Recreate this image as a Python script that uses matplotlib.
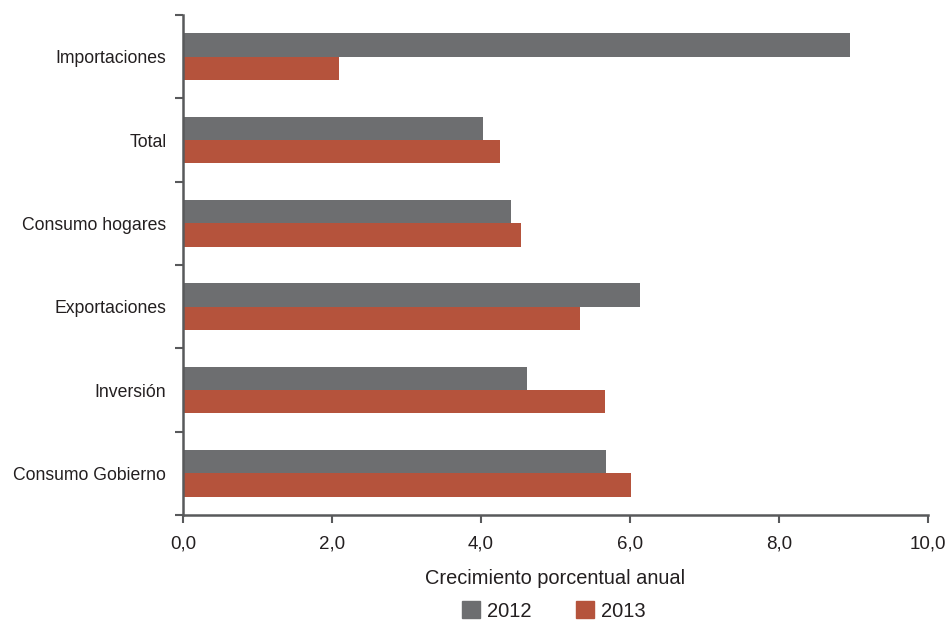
import matplotlib
matplotlib.use("Agg")
import matplotlib.pyplot as plt
from matplotlib.patches import Patch
import numpy as np

categories = ["Importaciones", "Total", "Consumo hogares", "Exportaciones",
              "Inversión", "Consumo Gobierno"]
growth_2012 = [8.95, 4.03, 4.40, 6.13, 4.62, 5.68]
growth_2013 = [2.09, 4.25, 4.54, 5.33, 5.66, 6.01]
series_labels = ["2012", "2013"]
x_ticks = [0, 2, 4, 6, 8, 10]
x_tick_labels = ["0,0", "2,0", "4,0", "6,0", "8,0", "10,0"]

gray = "#6d6e70"
red = "#b5533c"
spine_col = "#58595b"
text_col = "#231f20"

plt.rcParams["font.family"] = ["Liberation Sans", "DejaVu Sans"]

fig = plt.figure(figsize=(9.51, 6.22), dpi=100)
ax = fig.add_axes([183 / 951, 1 - 515 / 622, (928 - 183) / 951, (515 - 15) / 622])

y = np.arange(len(categories))
h = 0.28
ax.barh(y - h / 2, growth_2012, height=h, color=gray, label=series_labels[0])
ax.barh(y + h / 2, growth_2013, height=h, color=red, label=series_labels[1])

ax.set_xlim(0, 10)
ax.set_ylim(len(categories) - 0.5, -0.5)

ax.set_xticks(x_ticks)
ax.set_xticklabels(x_tick_labels, fontsize=13.5, color=text_col)

# category labels centred on groups, tick marks on group boundaries
ax.set_yticks(y)
ax.set_yticklabels(categories, fontsize=12.7, color=text_col)
ax.tick_params(axis="y", which="major", length=0, pad=12)
ax.set_yticks(np.arange(-0.5, len(categories) + 0.5, 1), minor=True)
ax.tick_params(axis="y", which="minor", length=6, width=1.5, color=spine_col, direction="out")
ax.tick_params(axis="x", length=6, width=1.5, color=spine_col, direction="out", pad=9)

for s in ["top", "right"]:
    ax.spines[s].set_visible(False)
for s in ["left", "bottom"]:
    ax.spines[s].set_color(spine_col)
    ax.spines[s].set_linewidth(1.8)

ax.set_xlabel("Crecimiento porcentual anual", fontsize=14.4, color=text_col, labelpad=12)

handles = [Patch(color=gray), Patch(color=red)]
fig.legend(handles, series_labels, loc="center", bbox_to_anchor=(554 / 951, 1 - 611 / 622),
           ncol=2, frameon=False, fontsize=14.5, handlelength=0.9, handleheight=0.9,
           columnspacing=2.2, handletextpad=0.35, labelcolor=text_col)

fig.savefig("out.png", dpi=100)
